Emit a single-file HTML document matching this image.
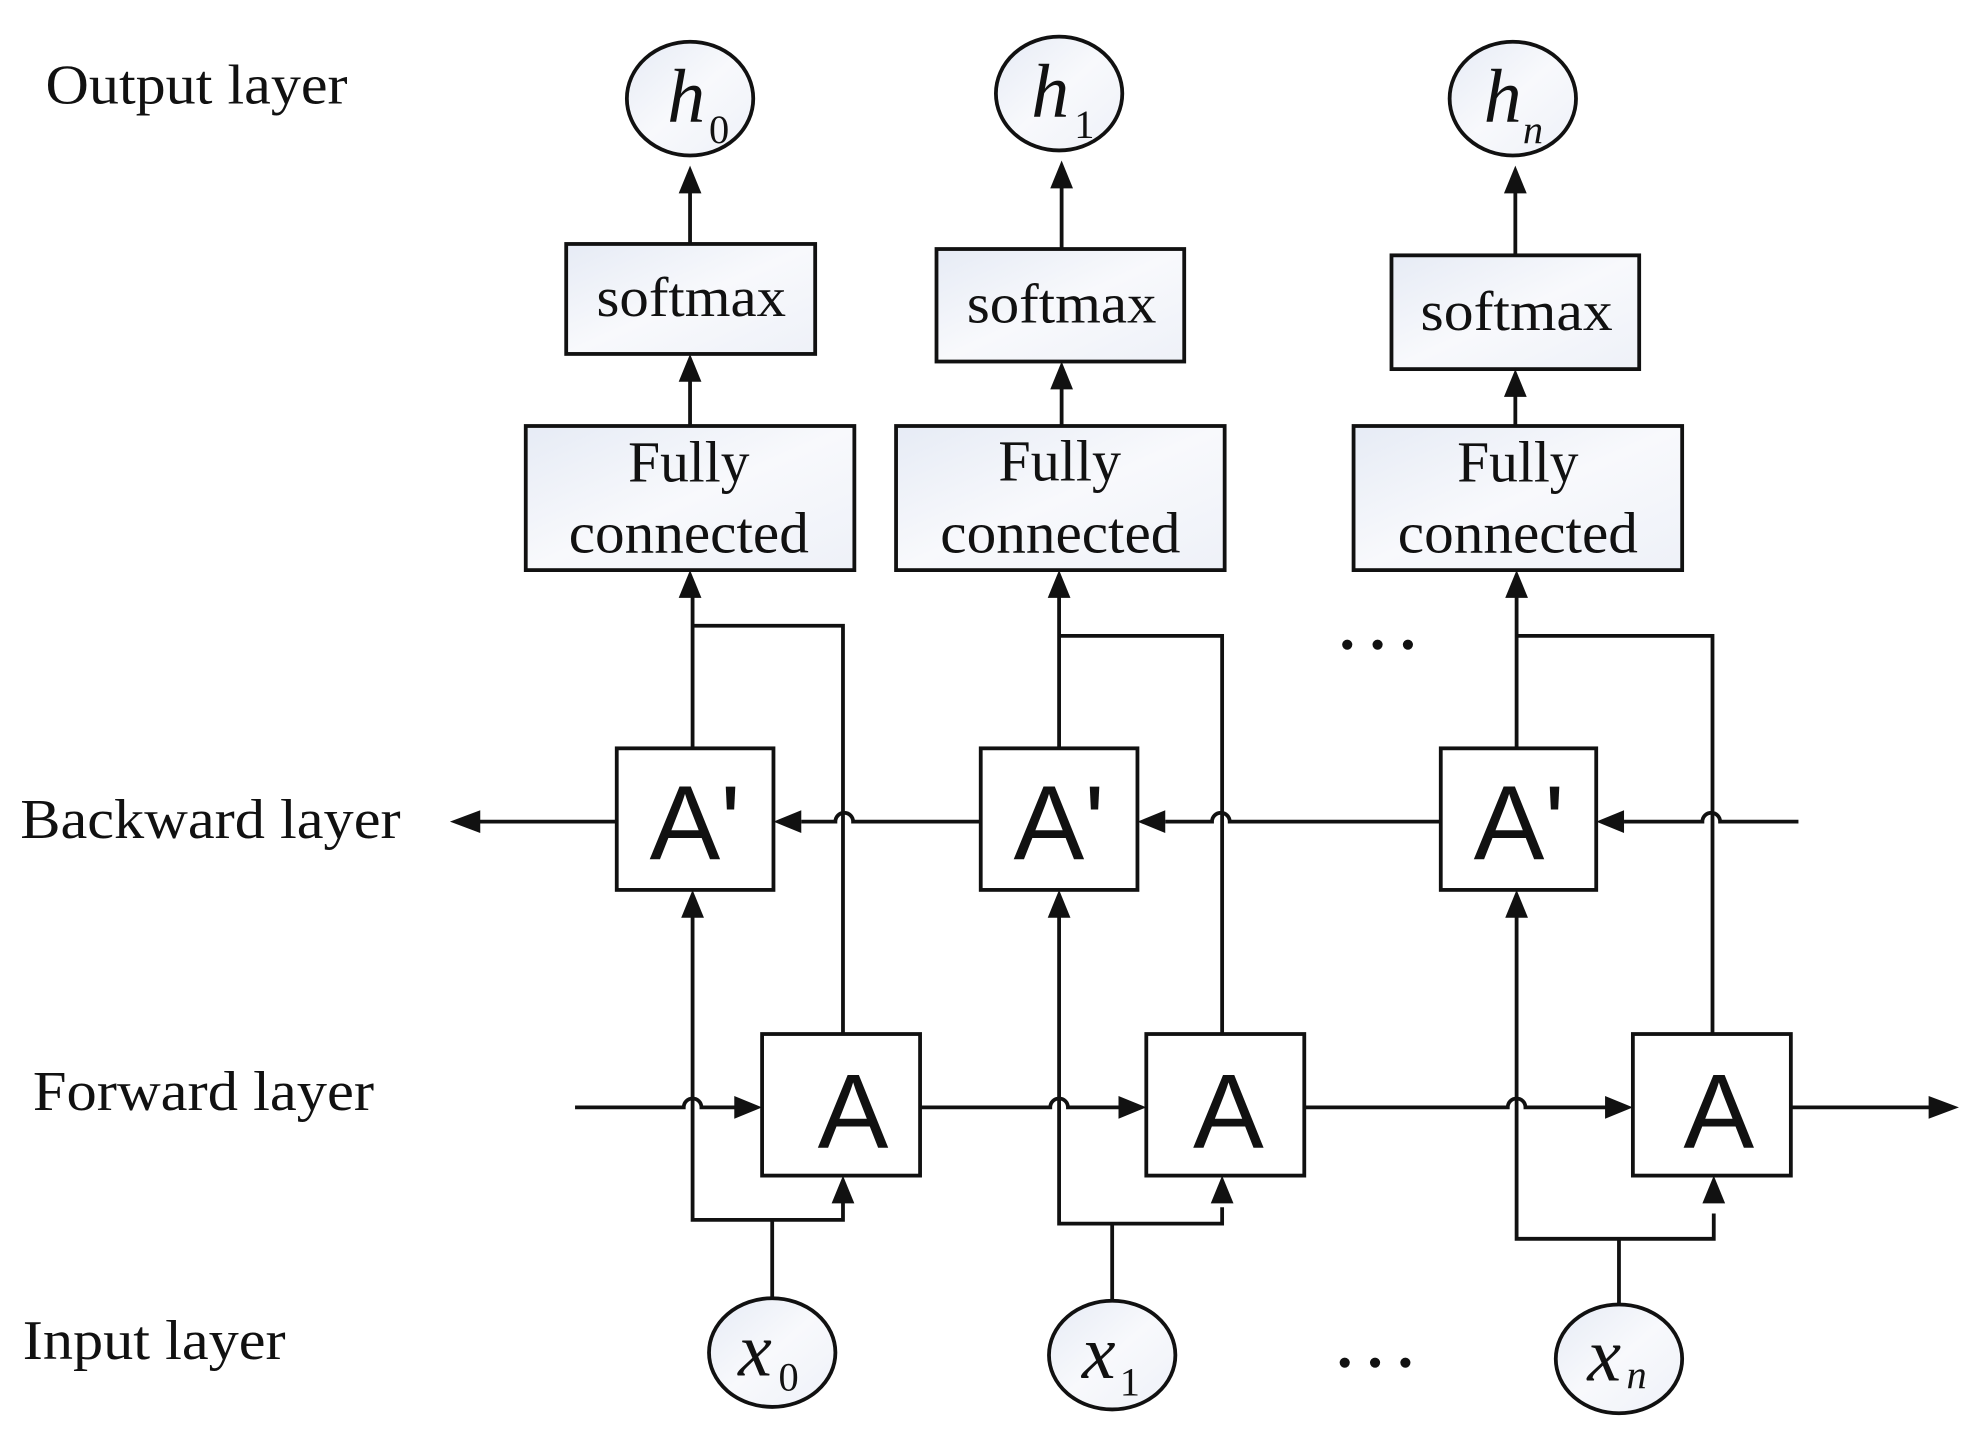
<!DOCTYPE html>
<html><head><meta charset="utf-8"><style>
html,body{margin:0;padding:0;background:#fff;width:1964px;height:1436px;overflow:hidden}
svg{display:block}
.s{font-family:"Liberation Serif",serif;fill:#111}
.a{font-family:"Liberation Sans",sans-serif;fill:#111}
</style></head><body>
<svg width="1964" height="1436" viewBox="0 0 1554 1136" preserveAspectRatio="none" xmlns="http://www.w3.org/2000/svg">
<defs>
<linearGradient id="g" x1="0" y1="0" x2="1" y2="1">
<stop offset="0" stop-color="#e6ebf5"/><stop offset="0.5" stop-color="#f8f9fc"/><stop offset="1" stop-color="#eef1f8"/>
</linearGradient>
</defs>
<g stroke="#111" stroke-width="3" fill="none">
<ellipse cx="546" cy="78" rx="50" ry="45" fill="url(#g)"/>
<ellipse cx="838" cy="74" rx="50" ry="45" fill="url(#g)"/>
<ellipse cx="1197" cy="78" rx="50" ry="45" fill="url(#g)"/>
<ellipse cx="611" cy="1070" rx="50" ry="43" fill="url(#g)"/>
<ellipse cx="880" cy="1072" rx="50" ry="43" fill="url(#g)"/>
<ellipse cx="1281" cy="1075" rx="50" ry="43" fill="url(#g)"/>
<rect x="448" y="193" width="197" height="87" fill="url(#g)"/>
<rect x="741" y="197" width="196" height="89" fill="url(#g)"/>
<rect x="1101" y="202" width="196" height="90" fill="url(#g)"/>
<rect x="416" y="337" width="260" height="114" fill="url(#g)"/>
<rect x="709" y="337" width="260" height="114" fill="url(#g)"/>
<rect x="1071" y="337" width="260" height="114" fill="url(#g)"/>
<rect x="488" y="592" width="124" height="112" fill="#fff"/>
<rect x="776" y="592" width="124" height="112" fill="#fff"/>
<rect x="1140" y="592" width="123" height="112" fill="#fff"/>
<rect x="603" y="818" width="125" height="112" fill="#fff"/>
<rect x="907" y="818" width="125" height="112" fill="#fff"/>
<rect x="1292" y="818" width="125" height="112" fill="#fff"/>
<path d="M546 193V140 M546 337V300 M840 197V136 M840 337V306 M1199 202V140 M1199 337V312"/>
<path d="M548 592V470 M667 818V495H548 M838 592V470 M967 818V503H838 M1200 592V470 M1355 818V503H1200"/>
<path d="M548 725V965H667V950 M611 965V1027"/>
<path d="M838 725V968H967V955 M880 968V1029"/>
<path d="M1200 725V980H1356V960 M1281 980V1032"/>
<path d="M1423 650H1361A7 7 0 0 0 1347 650H1285"/>
<path d="M1140 650H973A7 7 0 0 0 959 650H922"/>
<path d="M776 650H675A7 7 0 0 0 661 650H634"/>
<path d="M488 650H378"/>
<path d="M455 876H541A7 7 0 0 1 555 876H582"/>
<path d="M728 876H831A7 7 0 0 1 845 876H886"/>
<path d="M1032 876H1193A7 7 0 0 1 1207 876H1271"/>
<path d="M1417 876H1528"/>
</g>
<g fill="#111">
<polygon points="546,131 537,153 555,153"/>
<polygon points="546,280 537,302 555,302"/>
<polygon points="840,127 831,149 849,149"/>
<polygon points="840,286 831,308 849,308"/>
<polygon points="1199,131 1190,153 1208,153"/>
<polygon points="1199,292 1190,314 1208,314"/>
<polygon points="546,451 537,473 555,473"/>
<polygon points="838,451 829,473 847,473"/>
<polygon points="1200,451 1191,473 1209,473"/>
<polygon points="548,704 539,726 557,726"/>
<polygon points="838,704 829,726 847,726"/>
<polygon points="1200,704 1191,726 1209,726"/>
<polygon points="667,930 658,952 676,952"/>
<polygon points="967,930 958,952 976,952"/>
<polygon points="1356,930 1347,952 1365,952"/>
<polygon points="612,650 634,641 634,659"/>
<polygon points="900,650 922,641 922,659"/>
<polygon points="1263,650 1285,641 1285,659"/>
<polygon points="356,650 380,641 380,659"/>
<polygon points="603,876 581,867 581,885"/>
<polygon points="907,876 885,867 885,885"/>
<polygon points="1292,876 1270,867 1270,885"/>
<polygon points="1550,876 1526,867 1526,885"/>
<circle cx="1066" cy="510" r="4"/><circle cx="1090" cy="510" r="4"/><circle cx="1114" cy="510" r="4"/>
<circle cx="1064" cy="1078" r="4"/><circle cx="1088" cy="1078" r="4"/><circle cx="1112" cy="1078" r="4"/>
</g>
<g class="s" font-size="44">
<text x="36" y="82" textLength="239" lengthAdjust="spacingAndGlyphs">Output layer</text>
<text x="16" y="663" textLength="301" lengthAdjust="spacingAndGlyphs">Backward layer</text>
<text x="26" y="878" textLength="270" lengthAdjust="spacingAndGlyphs">Forward layer</text>
<text x="18" y="1075" textLength="208" lengthAdjust="spacingAndGlyphs">Input layer</text>
</g>
<g class="s" font-size="44">
<text x="472" y="250" textLength="150" lengthAdjust="spacingAndGlyphs">softmax</text>
<text x="765" y="255" textLength="150" lengthAdjust="spacingAndGlyphs">softmax</text>
<text x="1124" y="261" textLength="152" lengthAdjust="spacingAndGlyphs">softmax</text>
</g>
<g class="s" font-size="46">
<text x="497" y="381" textLength="96" lengthAdjust="spacingAndGlyphs">Fully</text>
<text x="450" y="437" textLength="190" lengthAdjust="spacingAndGlyphs">connected</text>
<text x="790" y="380" textLength="97" lengthAdjust="spacingAndGlyphs">Fully</text>
<text x="744" y="437" textLength="190" lengthAdjust="spacingAndGlyphs">connected</text>
<text x="1153" y="381" textLength="96" lengthAdjust="spacingAndGlyphs">Fully</text>
<text x="1106" y="437" textLength="190" lengthAdjust="spacingAndGlyphs">connected</text>
</g>
<g class="a" font-size="84" text-anchor="middle">
<text x="550" y="680">A'</text><text x="838" y="680">A'</text><text x="1202" y="680">A'</text>
<text x="675" y="908">A</text><text x="972" y="908">A</text><text x="1360" y="908">A</text>
</g>
<g class="s" font-style="italic" font-size="60">
<text x="528" y="96">h</text><text x="816" y="92">h</text><text x="1174" y="96">h</text>
<text x="584" y="1088">x</text><text x="856" y="1090">x</text><text x="1256" y="1092">x</text>
</g>
<g class="s" font-size="32">
<text x="561" y="113">0</text><text x="850" y="109">1</text><text x="1205" y="113" font-style="italic">n</text>
<text x="616" y="1100">0</text><text x="886" y="1104">1</text><text x="1287" y="1098" font-style="italic">n</text>
</g>
</svg>
</body></html>
